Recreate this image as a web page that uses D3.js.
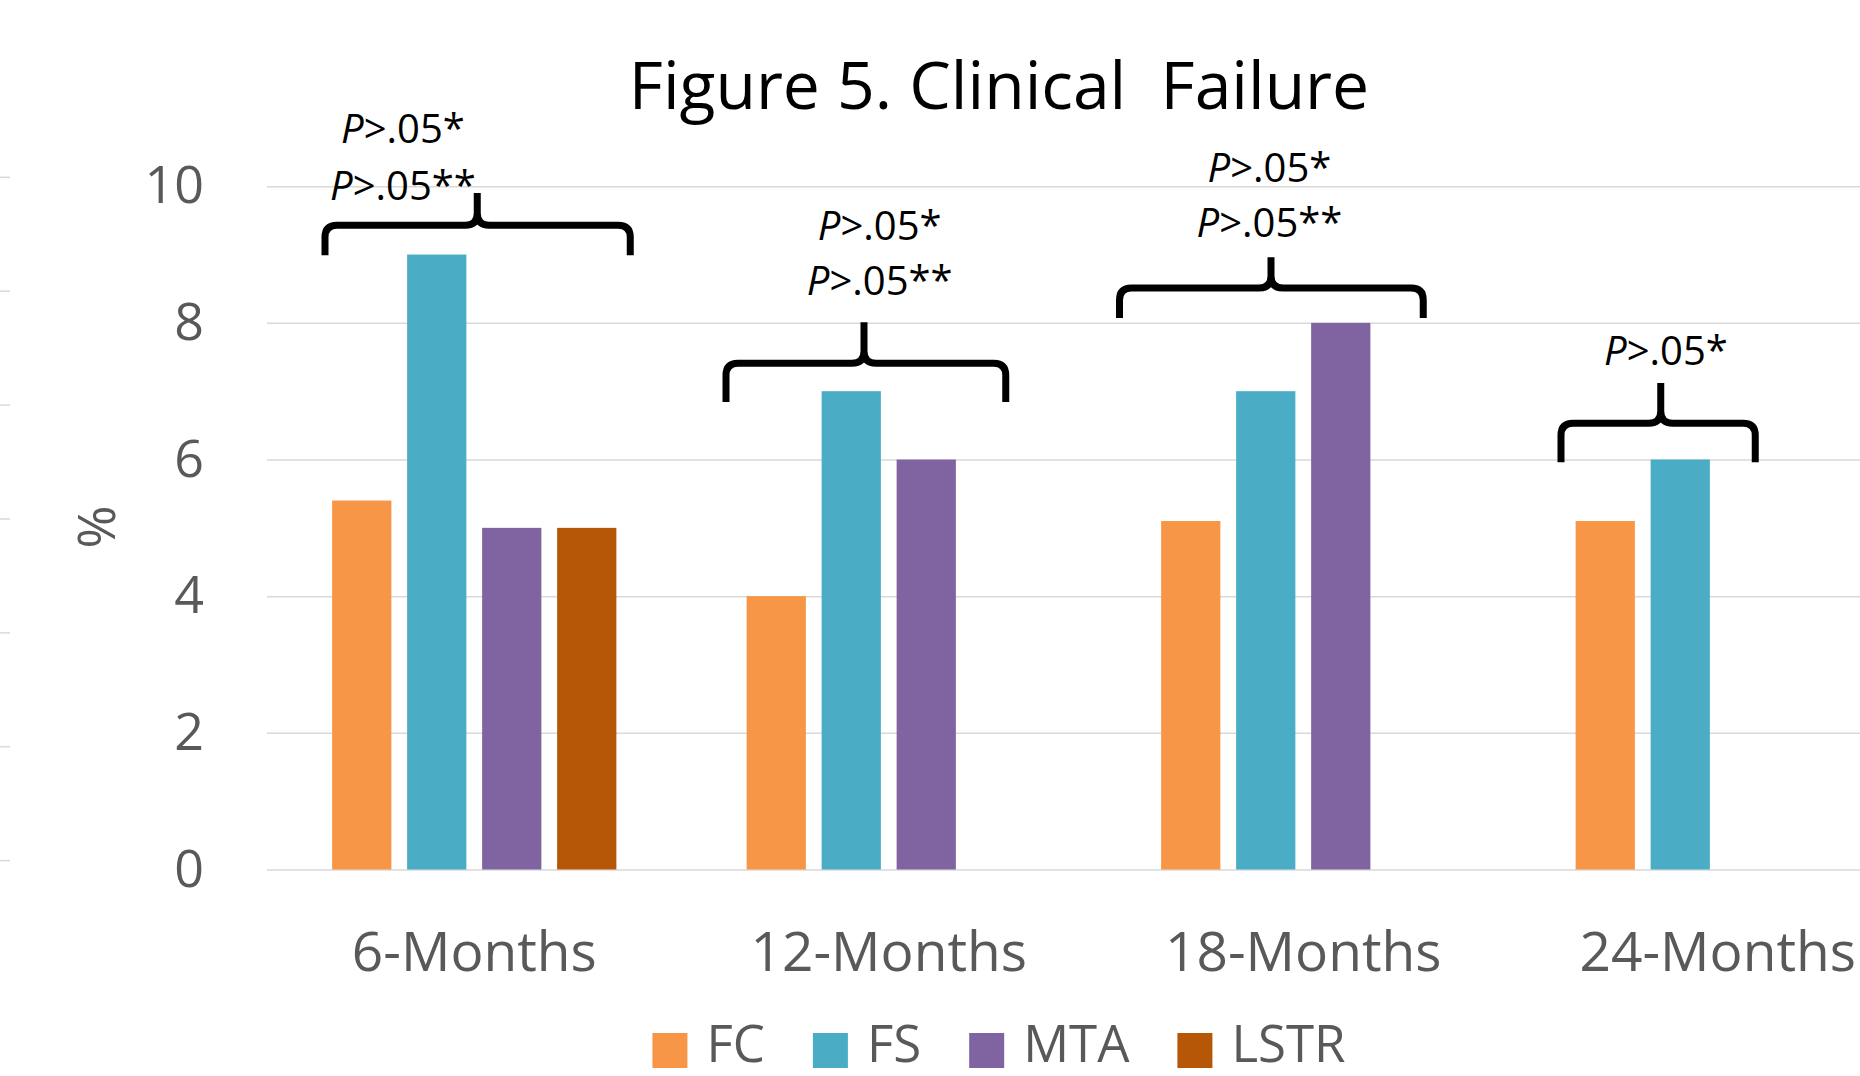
<!DOCTYPE html>
<html>
<head>
<meta charset="utf-8">
<script src="https://cdn.jsdelivr.net/npm/d3@7"></script>
<style>
	body { margin: 0; background: #fff; }
	svg { display: block; font-family: "Open Sans", sans-serif; }
</style>
</head>
<body>
<svg id="chart"></svg>
<script>
// data
const categories = ["6-Months", "12-Months", "18-Months", "24-Months"];
const seriesNames = ["FC", "FS", "MTA", "LSTR"];
const seriesColors = ["#F79646", "#4BACC6", "#8064A2", "#B65708"];
const fcValues = [5.4, 4, 5.1, 5.1];
const fsValues = [9, 7, 7, 6];
const mtaValues = [5, 6, 8, null];
const lstrValues = [5, null, null, null];
const yTicks = [0, 2, 4, 6, 8, 10];
const strayTicks = [0, 1, 2, 3, 4, 5, 6];

// significance brackets (x in bar-slot units inside a group, y in %)
const bracketLabels = [["P>.05*", "P>.05**"], ["P>.05*", "P>.05**"], ["P>.05*", "P>.05**"], ["P>.05*"]];
const bracketSpan = [[0.01, 4.08, 2.04], [-0.17, 3.56, 1.67], [-0.45, 3.6, 1.57], [-0.09, 2.5, 1.24]];
const bracketLevels = [[8.99, 9.43, 9.9], [6.84, 7.41, 8.01], [8.07, 8.51, 8.96], [5.96, 6.53, 7.12]];
const labelSlot = [1.05, 1.88, 1.55, 1.31];
const labelLevels = [[10.63, 9.8], [9.21, 8.41], [10.06, 9.26], [7.38]];

const allValues = [fcValues, fsValues, mtaValues, lstrValues];

const W = 1860, H = 1076;
const centerX = 999;
const textGrey = "#595959";

const svg = d3.select("#chart")
	.attr("width", W)
	.attr("height", H);

const x0 = d3.scaleBand().domain(categories).range([267, 1925]).padding(0);
const groupW = 300;
const x1 = d3.scaleBand().domain(seriesNames)
	.range([(x0.bandwidth() - groupW) / 2, (x0.bandwidth() + groupW) / 2])
	.paddingInner(0.21).paddingOuter(0.105);
const slot = d3.scaleLinear().domain([0, 4])
	.range([(x0.bandwidth() - groupW) / 2, (x0.bandwidth() + groupW) / 2]);
const y = d3.scaleLinear().domain([0, 10]).range([869.5, 186.2]);
const yStray = d3.scaleLinear().domain([0, 6]).range([860.6, 177.3]);

// leftover tick marks on the left edge
svg.append("g")
	.selectAll("line")
	.data(strayTicks)
	.enter()
	.append("line")
	.attr("x1", 0).attr("x2", 10)
	.attr("y1", d => yStray(d)).attr("y2", d => yStray(d))
	.style("stroke", "#d9d9d9")
	.style("stroke-width", 1.5);

// gridlines
svg.append("g")
	.attr("class", "grid")
	.attr("transform", `translate(${x0.range()[0]},0)`)
	.call(d3.axisLeft(y).tickValues(yTicks).tickSize(-(W - x0.range()[0])).tickFormat(""))
	.call(g => g.select(".domain").remove())
	.selectAll("line")
	.style("stroke", "#d9d9d9")
	.style("stroke-width", 1.5);

// y tick labels
svg.append("g")
	.attr("transform", `translate(204,0)`)
	.call(d3.axisLeft(y).tickValues(yTicks).tickSize(0).tickPadding(0))
	.call(g => g.select(".domain").remove())
	.selectAll("text")
	.style("font-family", "Open Sans")
	.style("font-size", "52px")
	.style("fill", textGrey);

// y axis title
svg.append("text")
	.attr("transform", `translate(97,527) rotate(-90)`)
	.attr("text-anchor", "middle")
	.attr("dy", "0.35em")
	.style("font-size", "52px")
	.style("fill", textGrey)
	.text("%");

// bars
const groups = svg.selectAll(".group")
	.data(categories)
	.enter()
	.append("g")
	.attr("class", "group")
	.attr("transform", d => `translate(${x0(d)},0)`);

groups.selectAll("rect")
	.data((c, ci) => seriesNames.map((s, si) => ({ s, si, v: allValues[si][ci] })).filter(d => d.v != null))
	.enter()
	.append("rect")
	.attr("x", d => x1(d.s))
	.attr("width", x1.bandwidth())
	.attr("y", d => y(d.v))
	.attr("height", d => y(0) - y(d.v))
	.style("fill", d => seriesColors[d.si]);

// category labels
svg.append("g")
	.attr("transform", `translate(0,${971})`)
	.call(d3.axisBottom(x0).tickSize(0).tickPadding(0))
	.call(g => g.select(".domain").remove())
	.selectAll("text")
	.attr("dy", 0)
	.style("font-family", "Open Sans")
	.style("font-size", "55px")
	.style("fill", textGrey);

// brackets
const r = 12;
groups.each(function (c, i) {
	const g = d3.select(this);
	const [a, b, t] = bracketSpan[i].map(slot);
	const [yEnd, yLine, yTip] = bracketLevels[i].map(y);
	const path = `M${a},${yEnd} L${a},${yLine + r} Q${a},${yLine} ${a + r},${yLine} L${t - r},${yLine} Q${t},${yLine} ${t},${yLine - r} L${t},${yTip}` +
		` M${t},${yLine - r} Q${t},${yLine} ${t + r},${yLine} L${b - r},${yLine} Q${b},${yLine} ${b},${yLine + r} L${b},${yEnd}`;
	g.append("path")
		.attr("d", path)
		.style("fill", "none")
		.style("stroke", "#000")
		.style("stroke-width", 7)
		.style("stroke-linejoin", "round");

	bracketLabels[i].forEach((lab, j) => {
		const t = g.append("text")
			.attr("x", slot(labelSlot[i]))
			.attr("y", y(labelLevels[i][j]))
			.attr("text-anchor", "middle")
			.style("font-size", "40px")
			.style("fill", "#000");
		t.append("tspan").style("font-style", "italic").text(lab[0]);
		t.append("tspan").text(lab.slice(1));
	});
});

// title
svg.append("text")
	.attr("x", centerX)
	.attr("y", 109)
	.attr("text-anchor", "middle")
	.style("font-size", "66px")
	.style("fill", "#000")
	.text("Figure 5. Clinical\u00a0 Failure");

// legend
const legend = svg.append("g").attr("class", "legend");
const items = legend.selectAll("g")
	.data(seriesNames)
	.enter()
	.append("g");
items.append("rect")
	.attr("width", 35).attr("height", 35)
	.attr("y", 1033)
	.style("fill", (d, i) => seriesColors[i]);
items.append("text")
	.attr("x", 54)
	.attr("y", 1062)
	.style("font-size", "51px")
	.style("fill", textGrey)
	.text(d => d);
let cursor = 0;
const offsets = [];
items.each(function () {
	offsets.push(cursor);
	cursor += 54 + d3.select(this).select("text").node().getComputedTextLength() + 48;
});
const totalW = cursor - 48;
items.attr("transform", (d, i) => `translate(${centerX - totalW / 2 + offsets[i]},0)`);
</script>
</body>
</html>
